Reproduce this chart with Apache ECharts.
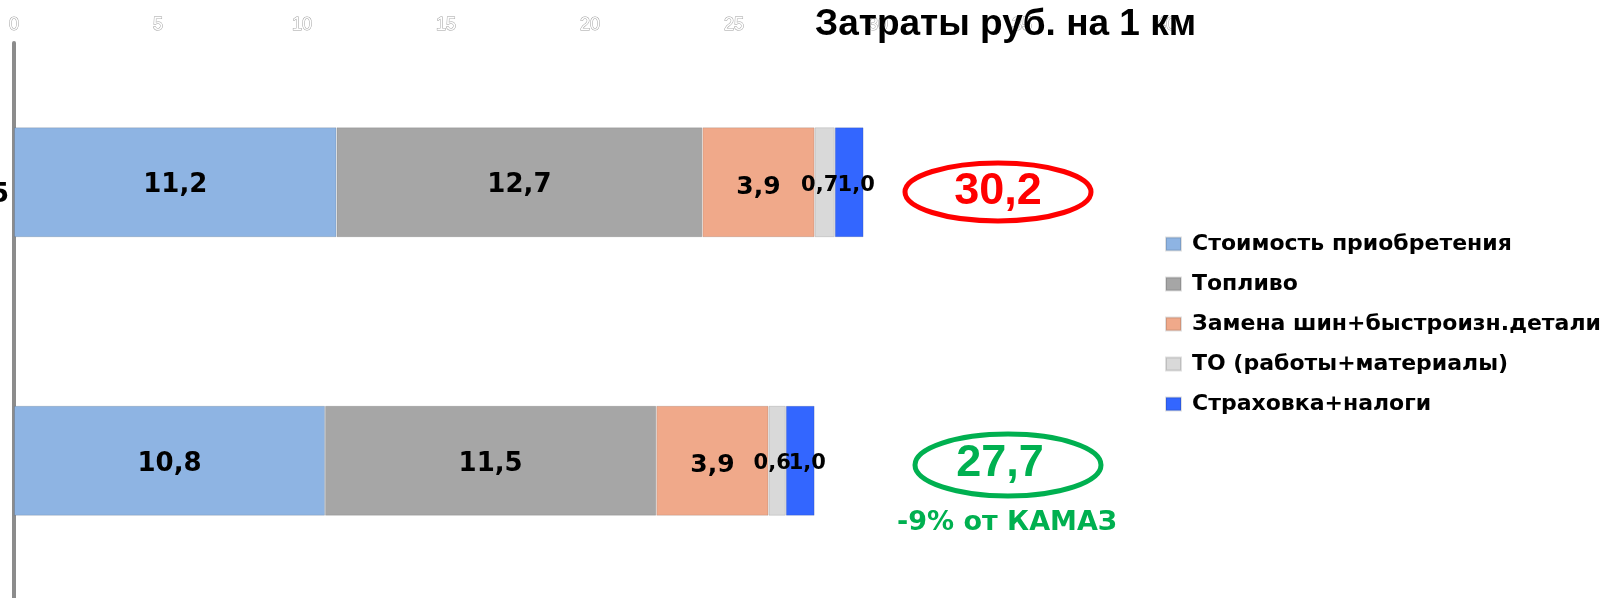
<!DOCTYPE html>
<html>
<head>
<meta charset="utf-8">
<title>Затраты руб. на 1 км</title>
<script src="https://cdn.jsdelivr.net/npm/echarts@6/dist/echarts.min.js"></script>
<style>
    html, body { margin: 0; padding: 0; background: #fff; }
    #chart-box { width: 1614px; height: 598px; }
</style>
</head>
<body>
<div id="chart-box"></div>
<script>
    // rows, top to bottom
    var trucks = ['КАМАЗ-65115', ''];
    var costNames = ['Стоимость приобретения', 'Топливо', 'Замена шин+быстроизн.детали', 'ТО (работы+материалы)', 'Страховка+налоги'];

    var purchase = [11.2, 10.8];
    var fuel = [12.7, 11.5];
    var tyres = [3.9, 3.9];
    var service = [0.7, 0.6];
    var insurance = [1.0, 1.0];

    var totalLabels = ['30,2', '27,7'];
    var diffLabel = '-9% от КАМАЗ';

    var xMin = 0, xMax = 40, xStep = 5;

    var colors = ['#8eb4e3', '#a6a6a6', '#f0a98a', '#d9d9d9', '#3366ff'];

    function comma(p) {
        return p.value.toFixed(1).replace('.', ',');
    }

    function makeSeries(name, data, color, size, offset) {
        return {
            name: name,
            type: 'bar',
            stack: 'total',
            data: data,
            barWidth: 110,
            itemStyle: { color: color, borderColor: 'rgba(0,0,0,0.12)', borderWidth: 1 },
            label: {
                show: true,
                position: 'inside',
                color: '#000',
                fontFamily: 'DejaVu Sans',
                fontWeight: 'bold',
                fontSize: size,
                offset: offset,
                formatter: comma
            },
            emphasis: { disabled: true }
        };
    }

    var option = {
        animation: false,
        backgroundColor: '#fff',
        title: {
            text: 'Затраты руб. на 1 км',
            left: 810,
            top: 1,
            textStyle: { fontFamily: 'Liberation Sans', fontSize: 37, fontWeight: 'bold', color: '#000' }
        },
        legend: {
            data: costNames,
            orient: 'vertical',
            left: 1160,
            top: 228,
            itemWidth: 15,
            itemHeight: 13,
            itemGap: 18,
            icon: 'rect',
            textStyle: { fontFamily: 'DejaVu Sans', fontWeight: 'bold', fontSize: 22, color: '#000', padding: [0, 0, 0, 6] }
        },
        grid: { left: 14, right: 448, top: 43, height: 557, outerBoundsMode: 'none', containLabel: false },
        xAxis: {
            type: 'value',
            position: 'top',
            min: xMin,
            max: xMax,
            interval: xStep,
            axisLine: { show: false },
            axisTick: { show: false },
            splitLine: { show: false },
            axisLabel: {
                margin: 9,
                color: '#fff',
                textBorderColor: '#a0a0a0',
                textBorderWidth: 1,
                fontFamily: 'Liberation Sans',
                fontSize: 18
            }
        },
        yAxis: {
            type: 'category',
            inverse: true,
            data: trucks,
            axisTick: { show: false },
            axisLine: { show: true, lineStyle: { color: '#8c8c8c', width: 4 } },
            axisLabel: {
                margin: 5,
                color: '#000',
                fontFamily: 'DejaVu Sans',
                fontWeight: 'bold',
                fontSize: 26,
                verticalAlign: 'top'
            }
        },
        series: [
            makeSeries(costNames[0], purchase, colors[0], 26, [0, 3]),
            makeSeries(costNames[1], fuel, colors[1], 26, [0, 3]),
            makeSeries(costNames[2], tyres, colors[2], 25, [0, 5]),
            makeSeries(costNames[3], service, colors[3], 21, [-5, 3]),
            makeSeries(costNames[4], insurance, colors[4], 21, [7, 3])
        ],
        graphic: [
            {
                type: 'ellipse',
                shape: { cx: 998, cy: 192, rx: 93, ry: 29 },
                style: { fill: 'none', stroke: '#ff0000', lineWidth: 5 }
            },
            {
                type: 'text',
                x: 998, y: 192,
                style: { text: totalLabels[0], fill: '#ff0000', font: 'bold 45px "Liberation Sans"', textAlign: 'center', textVerticalAlign: 'middle', align: 'center', verticalAlign: 'middle' }
            },
            {
                type: 'ellipse',
                shape: { cx: 1008, cy: 465, rx: 93, ry: 31 },
                style: { fill: 'none', stroke: '#00b050', lineWidth: 5 }
            },
            {
                type: 'text',
                x: 1000, y: 464,
                style: { text: totalLabels[1], fill: '#00b050', font: 'bold 45px "Liberation Sans"', textAlign: 'center', textVerticalAlign: 'middle', align: 'center', verticalAlign: 'middle' }
            },
            {
                type: 'text',
                x: 1007, y: 523,
                style: { text: diffLabel, fill: '#00b050', font: 'bold 27px "DejaVu Sans"', textAlign: 'center', textVerticalAlign: 'middle', align: 'center', verticalAlign: 'middle' }
            }
        ]
    };

    var myChart = echarts.init(document.getElementById('chart-box'));
    myChart.setOption(option);
</script>
</body>
</html>
